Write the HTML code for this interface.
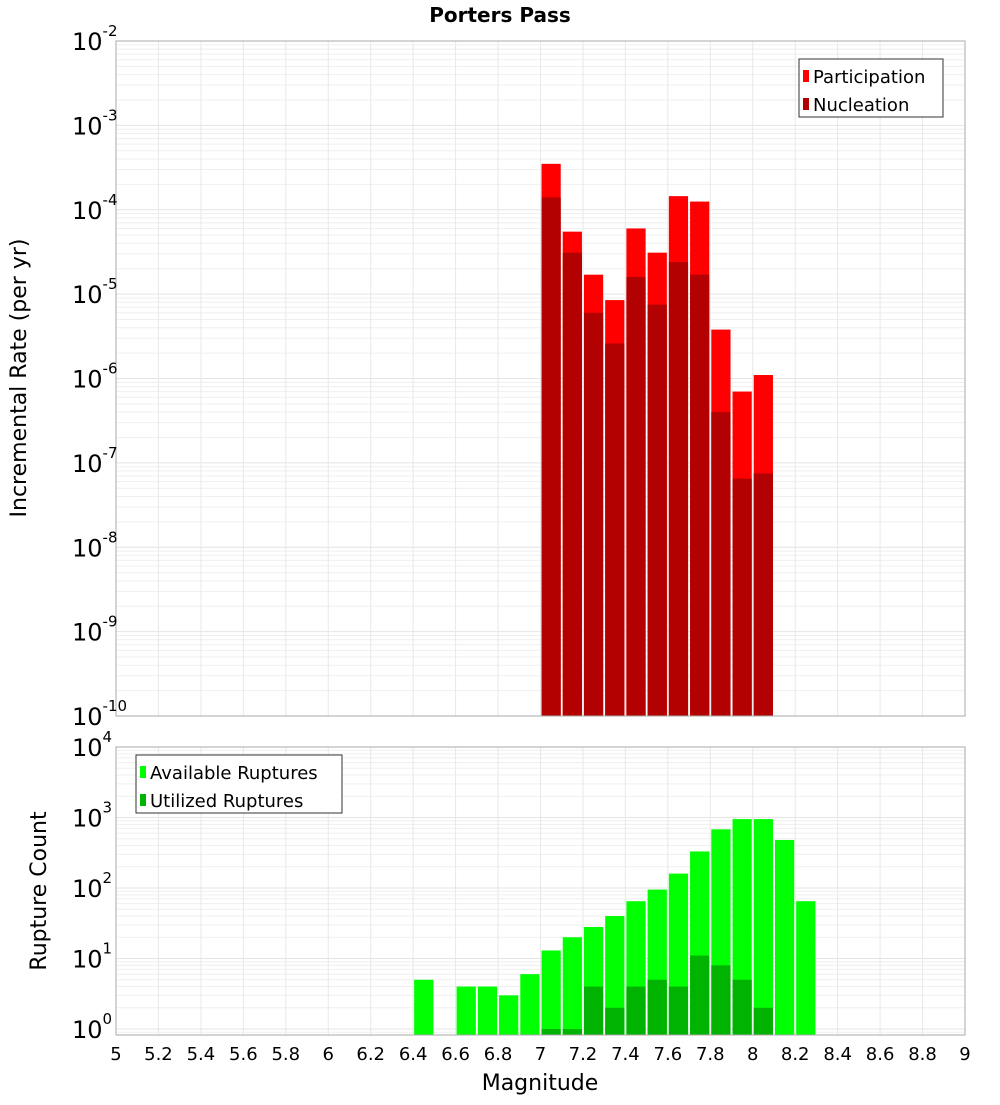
<!DOCTYPE html>
<html><head><meta charset="utf-8"><style>
body{margin:0;background:#fff;width:1000px;height:1100px;overflow:hidden}
svg{font-family:"DejaVu Sans","Liberation Sans",sans-serif}
</style></head><body>
<svg id="c" width="1000" height="1100" xmlns="http://www.w3.org/2000/svg">
<text x="500" y="22" text-anchor="middle" font-size="20" font-weight="bold">Porters Pass</text>
<text transform="translate(26,378) rotate(-90)" text-anchor="middle" font-size="22">Incremental Rate (per yr)</text>
<text transform="translate(46,891) rotate(-90)" text-anchor="middle" font-size="22">Rupture Count</text>
<text x="540" y="1090" text-anchor="middle" font-size="22">Magnitude</text>
<g id="g"></g>
</svg>
<script>
const binStarts=[7.0,7.1,7.2,7.3,7.4,7.5,7.6,7.7,7.8,7.9,8.0];
const participation=[3.5e-4,5.5e-5,1.7e-5,8.5e-6,6e-5,3.1e-5,1.45e-4,1.25e-4,3.8e-6,7e-7,1.1e-6];
const nucleation=[1.4e-4,3.1e-5,6e-6,2.6e-6,1.6e-5,7.5e-6,2.4e-5,1.7e-5,4e-7,6.5e-8,7.5e-8];
const countStarts=[6.4,6.6,6.7,6.8,6.9,7.0,7.1,7.2,7.3,7.4,7.5,7.6,7.7,7.8,7.9,8.0,8.1,8.2];
const available=[5,4,4,3,6,13,20,28,40,65,95,160,330,680,950,950,480,65];
const utilized=[0,0,0,0,0,1,1,4,2,4,5,4,11,8,5,2,0,0];
const xTicks=[5,5.2,5.4,5.6,5.8,6,6.2,6.4,6.6,6.8,7,7.2,7.4,7.6,7.8,8,8.2,8.4,8.6,8.8,9];
const topExps=[-2,-3,-4,-5,-6,-7,-8,-9,-10];
const botExps=[4,3,2,1,0];

const NS="http://www.w3.org/2000/svg",G=document.getElementById('g');
function el(t,a,p){const e=document.createElementNS(NS,t);for(const k in a)e.setAttribute(k,a[k]);(p||G).appendChild(e);return e;}
const L=116,R=965;
const X=m=>L+(m-5)/4*(R-L);
const T0=41,T1=716; const Yt=v=>T0+(-2-Math.log10(v))*(T1-T0)/8;
const B0=747,B1=1035,BD=70.5; const Yb=v=>B0+(4-Math.log10(v))*BD;

function grid(y0,y1,emax,emin,Y,nameP){
  for(let e=emin;e<emax;e++)for(let k=1;k<10;k++){const y=Y(k*Math.pow(10,e));if(y<y0||y>y1)continue;
    const l=el('line',{x1:L,x2:R,y1:y,y2:y,stroke:k==1?'#e4e4e4':'#efefef','stroke-width':1});
    }
  xTicks.forEach(t=>{const l=el('line',{x1:X(t),x2:X(t),y1:y0,y2:y1,stroke:'#e8e8e8'});
    });
}
grid(T0,T1,-2,-10,Yt,'top');
grid(B0,B1,4,-1,Yb,'bottom');

function bar(x0,v,Y,ybot,col,name){
  const y=Y(v);const r=el('rect',{x:X(x0)+1,y:y,width:X(x0+0.1)-X(x0)-2,height:ybot-y,fill:col});
  
}
binStarts.forEach((s,i)=>{bar(s,participation[i],Yt,T1,'#ff0000','participation-bar');});
binStarts.forEach((s,i)=>{bar(s,nucleation[i],Yt,T1,'#b30000','nucleation-bar');});
countStarts.forEach((s,i)=>{if(available[i]>0)bar(s,available[i],Yb,B1,'#00ff00','available-bar');});
countStarts.forEach((s,i)=>{if(utilized[i]>0)bar(s,utilized[i],Yb,B1,'#00b300','utilized-bar');});

[[T0,T1,'top-plot-frame'],[B0,B1,'bottom-plot-frame']].forEach(([a,b,n])=>{
  const r=el('rect',{x:L,y:a,width:R-L,height:b-a,fill:'none',stroke:'#aaa'});
  });

function powLabel(y,e,name){
  const t=el('text',{x:108,y:y+9,'text-anchor':'end','font-size':24});
  
  t.textContent='10';
  const s=el('tspan',{dy:-14,'font-size':15},t);s.textContent=String(e);
  t.setAttribute('text-anchor','start');t.setAttribute('x',72);
}
topExps.forEach(e=>powLabel(Yt(Math.pow(10,e)),e,'top-y-tick-label'));
botExps.forEach(e=>powLabel(Yb(Math.pow(10,e)),e,'bottom-y-tick-label'));
xTicks.forEach(t=>{const tx=el('text',{x:X(t),y:1060,'text-anchor':'middle','font-size':18});
  
  tx.textContent=String(t);});

function legend(x,y,w,items,name){
  const g=el('g',{});
  el('rect',{x:x,y:y,width:w,height:58,fill:'#fff',stroke:'#333'},g);
  items.forEach(([c,lab],i)=>{
    const s=el('rect',{x:x+4,y:y+11+i*28,width:6,height:12,fill:c},g);
    
    const t=el('text',{x:x+14,y:y+24+i*28,'font-size':18},g);
    
    t.textContent=lab;});
}
legend(799,59,144,[['#ff0000','Participation'],['#b30000','Nucleation']],'top-legend');
legend(136,755,206,[['#00ff00','Available Ruptures'],['#00b300','Utilized Ruptures']],'bottom-legend');
</script>
</body></html>
